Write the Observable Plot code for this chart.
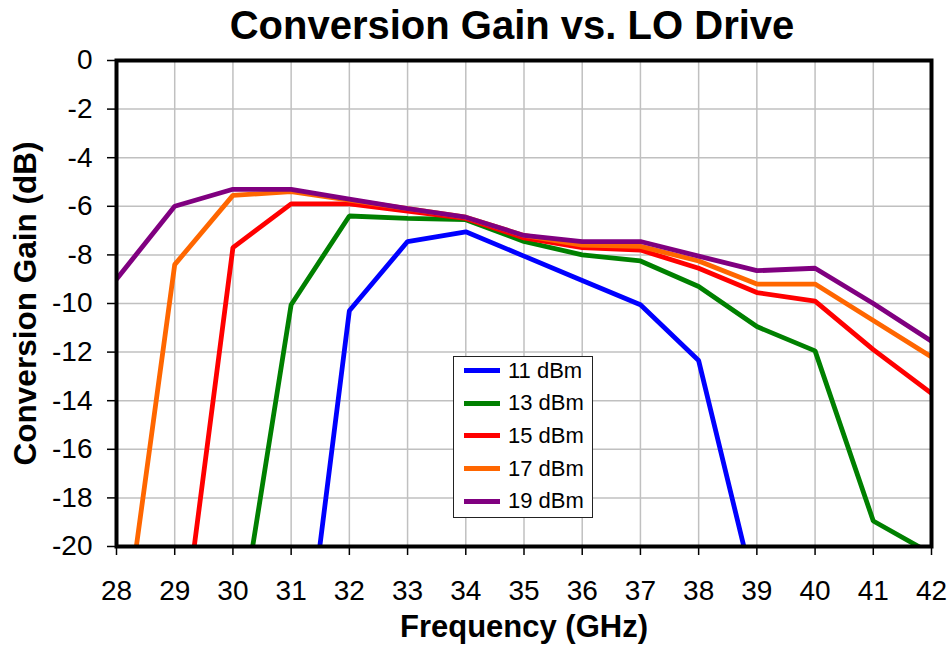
<!DOCTYPE html>
<html>
<head>
<meta charset="utf-8">
<script src="https://cdn.jsdelivr.net/npm/d3@7"></script>
<script src="https://cdn.jsdelivr.net/npm/@observablehq/plot@0.6"></script>
<style>
  html, body { margin: 0; padding: 0; background: #fff; }
  body { font-family: "Liberation Sans", Arial, sans-serif; }
  #wrap { position: relative; width: 949px; height: 650px; overflow: hidden; }
  #title { box-sizing: border-box; width: 949px; height: 48px; padding-left: 75px; text-align: center;
           font-size: 40px; font-weight: bold; line-height: 50px; color: #000; }
  #legend { position: absolute; left: 453px; top: 356px; width: 140px; height: 162px; box-sizing: border-box;
            border: 1.5px solid #222; background: #fff; }
  .row { position: absolute; left: 10px; height: 30px; display: flex; align-items: center; }
  .sw { width: 36px; height: 5px; margin-right: 8px; }
  .lb { font-size: 22px; color: #000; }
</style>
</head>
<body>
<div id="wrap">
  <div id="title">Conversion Gain vs. LO Drive</div>
  <div id="chart"></div>
  <div id="legend"></div>
</div>
<script>
// Data
const seriesNames = ["11 dBm", "13 dBm", "15 dBm", "17 dBm", "19 dBm"];
const seriesColors = ["#0000ff", "#008000", "#ff0000", "#ff6600", "#800080"];

const freq11 = [31, 32, 33, 34, 35, 36, 37, 38, 39];
const gain11 = [-29.4, -10.3, -7.45, -7.05, -8.05, -9.05, -10.05, -12.35, -22.2];

const freq13 = [30, 31, 32, 33, 34, 35, 36, 37, 38, 39, 40, 41, 42];
const gain13 = [-25.1, -10.05, -6.4, -6.5, -6.55, -7.45, -8.0, -8.25, -9.3, -10.95, -11.95, -18.95, -20.3];

const freq15 = [29, 30, 31, 32, 33, 34, 35, 36, 37, 38, 39, 40, 41, 42];
const gain15 = [-26.2, -7.7, -5.9, -5.9, -6.2, -6.5, -7.3, -7.7, -7.8, -8.55, -9.55, -9.9, -11.9, -13.7];

const freq17 = [28, 29, 30, 31, 32, 33, 34, 35, 36, 37, 38, 39, 40, 41, 42];
const gain17 = [-26, -8.4, -5.55, -5.4, -5.75, -6.1, -6.45, -7.2, -7.6, -7.65, -8.25, -9.2, -9.2, -10.7, -12.2];

const freq19 = [28, 29, 30, 31, 32, 33, 34, 35, 36, 37, 38, 39, 40, 41, 42];
const gain19 = [-9.0, -6.0, -5.3, -5.3, -5.7, -6.1, -6.45, -7.2, -7.45, -7.45, -8.05, -8.65, -8.55, -10.0, -11.55];

const xTicks = [28, 29, 30, 31, 32, 33, 34, 35, 36, 37, 38, 39, 40, 41, 42];
const yTicks = [0, -2, -4, -6, -8, -10, -12, -14, -16, -18, -20];

const xLabel = "Frequency (GHz)";
const yLabel = "Conversion Gain (dB)";

const freqs = [freq11, freq13, freq15, freq17, freq19];
const gains = [gain11, gain13, gain15, gain17, gain19];

const rows = [];
seriesNames.forEach((name, i) => {
  freqs[i].forEach((f, j) => rows.push({series: name, freq: f, gain: gains[i][j]}));
});

const chart = Plot.plot({
  width: 949,
  height: 602,
  marginTop: 12,
  marginLeft: 116,
  marginRight: 18,
  marginBottom: 104,
  style: {fontFamily: "'Liberation Sans', Arial, sans-serif", background: "#fff", color: "#000", overflow: "visible"},
  x: {domain: [28, 42]},
  y: {domain: [-20, 0]},
  color: {domain: seriesNames, range: seriesColors},
  marks: [
    Plot.gridX(xTicks, {stroke: "#c0c0c0", strokeOpacity: 1, strokeWidth: 1.5}),
    Plot.gridY(yTicks, {stroke: "#c0c0c0", strokeOpacity: 1, strokeWidth: 1.5}),
    Plot.axisX(xTicks, {tickSize: 9, tickPadding: 25, fontSize: 28, strokeWidth: 1.5, tickFormat: d => String(d), label: null}),
    Plot.axisY(yTicks, {tickSize: 9, tickPadding: 15, fontSize: 28, strokeWidth: 1.5, tickFormat: d => String(d), label: null}),
    Plot.line(rows, {x: "freq", y: "gain", z: "series", stroke: "series", strokeWidth: 4.8, clip: true, strokeLinejoin: "miter", strokeLinecap: "butt"}),
    Plot.frame({stroke: "#000", strokeWidth: 4}),
    Plot.text([xLabel], {frameAnchor: "bottom", dy: 90, fontSize: 31, fontWeight: "bold", fill: "#000"}),
    Plot.text([yLabel], {frameAnchor: "left", textAnchor: "middle", dx: -91, dy: 0, rotate: -90, fontSize: 31.5, fontWeight: "bold", fill: "#000"})
  ]
});
document.getElementById("chart").appendChild(chart);

// Legend
const legend = document.getElementById("legend");
seriesNames.forEach((name, i) => {
  const r = document.createElement("div");
  r.className = "row";
  r.style.top = (-1.5 + i * 32.7) + "px";
  const sw = document.createElement("div");
  sw.className = "sw";
  sw.style.background = seriesColors[i];
  const lb = document.createElement("span");
  lb.className = "lb";
  lb.textContent = name;
  r.appendChild(sw);
  r.appendChild(lb);
  legend.appendChild(r);
});
</script>
</body>
</html>
